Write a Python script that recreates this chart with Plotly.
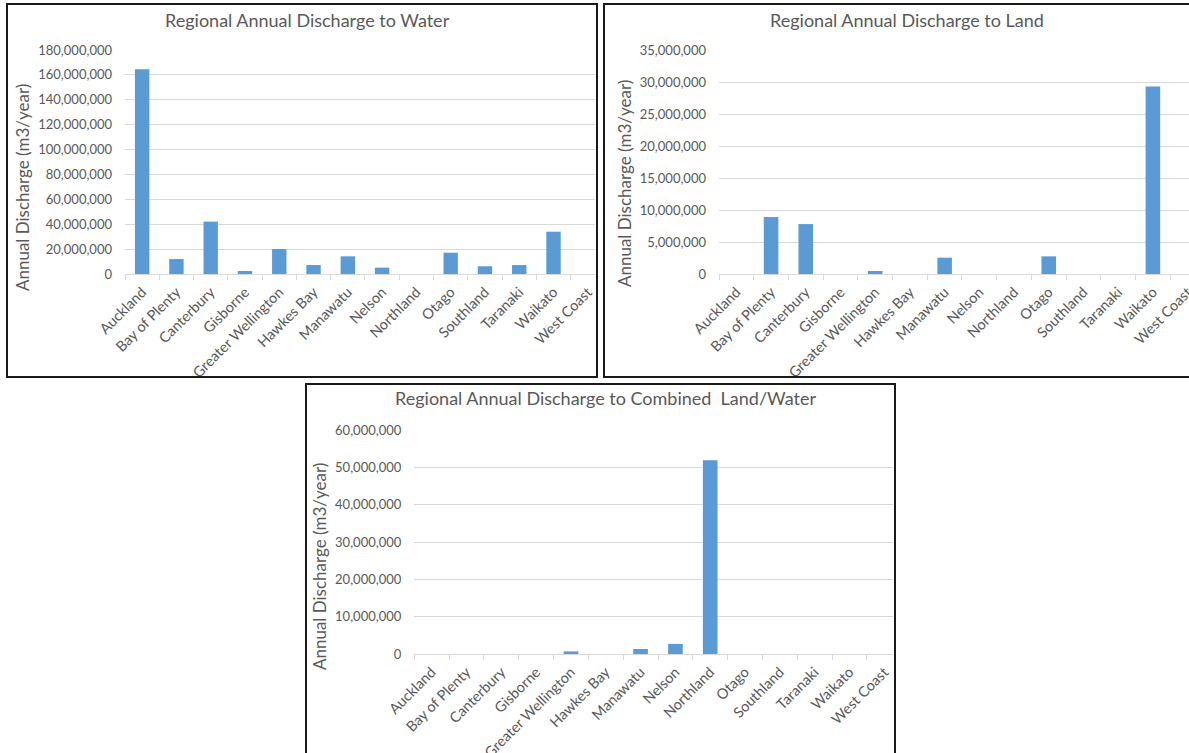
import plotly.graph_objects as go

# Regions and annual discharge volumes (m3/year)
regions = ["Auckland", "Bay of Plenty", "Canterbury", "Gisborne", "Greater Wellington",
           "Hawkes Bay", "Manawatu", "Nelson", "Northland", "Otago", "Southland",
           "Taranaki", "Waikato", "West Coast"]

discharge_water = [164500000, 12000000, 42100000, 2400000, 20100000, 7200000, 14200000,
                   5100000, 0, 17100000, 6200000, 7200000, 34000000, 0]

discharge_land = [0, 8900000, 7800000, 0, 470000, 0, 2550000, 0, 0, 2760000, 0, 0,
                  29300000, 0]

discharge_combined = [0, 0, 0, 0, 700000, 0, 1340000, 2700000, 51900000, 0, 0, 0, 0, 0]

titles = ["Regional Annual Discharge to Water",
          "Regional Annual Discharge to Land",
          "Regional Annual Discharge to Combined  Land/Water"]
y_title = "Annual Discharge (m3/year)"
y_max = [180000000, 35000000, 60000000]
y_step = [20000000, 5000000, 10000000]

W, H = 1189, 753
FONT = "Lato"
GREY = "#595959"
GRID = "#d9d9d9"
BAR = "#5b9bd5"


def px_x(x):
    return x / W


def px_y(y):
    return 1 - y / H


fig = go.Figure()

# plot-area boxes in pixels: (left, right, top, bottom, last visible category edge)
areas = [
    (125, 595, 50, 274, 13.21),
    (719, 1189, 50, 274, 13.04),
    (414.3, 893, 430, 654, 13.25),
]
series = [discharge_water, discharge_land, discharge_combined]

for i, (vals, (l, r, t, b, xend)) in enumerate(zip(series, areas)):
    n = "" if i == 0 else str(i + 1)
    fig.add_trace(go.Bar(
        x=regions, y=vals, xaxis="x" + n, yaxis="y" + n,
        marker=dict(color=BAR, line=dict(width=0)),
        width=0.42, showlegend=False,
    ))
    fig.layout["xaxis" + n] = dict(
        domain=[px_x(l), px_x(r)], anchor="y" + n, type="category",
        range=[-0.5, xend], tickson="boundaries", ticks="outside", ticklen=5,
        tickcolor=GRID, showline=True, linecolor=GRID, linewidth=1,
        showgrid=False, tickangle=-45, fixedrange=True, ticklabelstandoff=3,
        automargin=False,
        tickfont=dict(family=FONT, size=14.5, color=GREY),
    )
    fig.layout["yaxis" + n] = dict(
        domain=[px_y(b), px_y(t)], anchor="x" + n, range=[0, y_max[i]],
        dtick=y_step[i], tick0=0, tickformat=",d", showgrid=True,
        gridcolor=GRID, gridwidth=1, zeroline=False, showline=False,
        ticklabelstandoff=12, fixedrange=True, automargin=False,
        tickfont=dict(family=FONT, size=13, color=GREY),
    )

# chart titles and rotated axis titles
title_pos = [(307, 20), (907, 20), (605, 398)]
ytitle_pos = [(22, 188), (624, 184), (319, 567)]
ann = []
for txt, (tx, ty) in zip(titles, title_pos):
    ann.append(dict(text=txt, x=px_x(tx), y=px_y(ty), xref="paper", yref="paper",
                    showarrow=False, xanchor="center", yanchor="middle",
                    font=dict(family=FONT, size=18, color=GREY)))
for (ax, ay) in ytitle_pos:
    ann.append(dict(text=y_title, x=px_x(ax), y=px_y(ay), xref="paper", yref="paper",
                    showarrow=False, xanchor="center", yanchor="middle", textangle=-90,
                    font=dict(family=FONT, size=17, color=GREY)))

# panel frames
frames = [(7, 597, 4, 377), (604, 1200, 4, 377), (306, 895, 384, 770)]
shapes = []
for (x0, x1, y0, y1) in frames:
    shapes.append(dict(type="rect", xref="paper", yref="paper",
                       x0=px_x(x0), x1=px_x(x1), y0=px_y(y1), y1=px_y(y0),
                       line=dict(color="#1a1a1a", width=2), fillcolor="rgba(0,0,0,0)"))

fig.update_layout(
    width=W, height=H, margin=dict(l=0, r=0, t=0, b=0, autoexpand=False),
    paper_bgcolor="white", plot_bgcolor="white",
    annotations=ann, shapes=shapes, bargap=0.58,
)

# keep the page flush with the window edges
page_css = ("document.documentElement.style.margin='0';"
            "document.body.style.margin='0';"
            "document.body.style.overflow='hidden';")

fig.write_html("out.html", config={"displayModeBar": False}, post_script=page_css)
